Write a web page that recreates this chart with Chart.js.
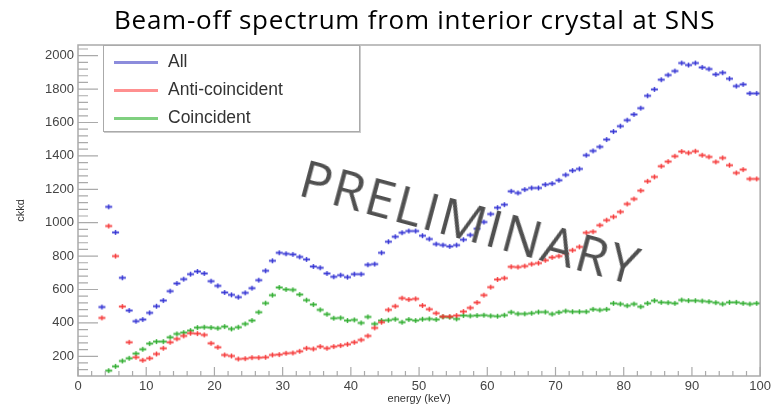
<!DOCTYPE html>
<html>
<head>
<meta charset="utf-8">
<script src="https://cdn.jsdelivr.net/npm/chart.js@4/dist/chart.umd.min.js"></script>
<style>
  html, body { margin: 0; padding: 0; background: #fff; }
  #wrap { position: relative; width: 774px; height: 406px; overflow: hidden; }
  #chart { position: absolute; left: 0; top: 0; }
  #title { position: absolute; left: 114px; top: 1px; width: 604px; text-align: left;
           font-family: "Open Sans", sans-serif; font-size: 26px; letter-spacing: 0.75px; color: #000; white-space: nowrap; }
  #legend { position: absolute; left: 103px; top: 45px; width: 255px; height: 85px;
            border: 1px solid #aaa; box-shadow: 1px 1px 0 #ccc; background: #fff;
            font-family: "Liberation Sans", Arial, sans-serif; font-size: 17.5px; color: #333; }
  .row { position: absolute; left: 10px; height: 20px; line-height: 20px; white-space: nowrap; }
  .row span.sw { display: inline-block; width: 44px; height: 3px; vertical-align: middle; margin-right: 10px; }
  #prelim { position: absolute; left: 471px; top: 221px; transform: translate(-50%, -50%) rotate(15deg);
            font-family: "Open Sans", sans-serif; font-size: 52px; color: #505050; letter-spacing: 2px;
            white-space: nowrap; line-height: 1; }
</style>
</head>
<body>
<div id="wrap">
  <canvas id="chart" width="774" height="406"></canvas>
  <div id="title">Beam-off spectrum from interior crystal at SNS</div>
  <div id="legend">
    <div class="row" style="top:5px"><span class="sw" style="background:#8c8cdc"></span>All</div>
    <div class="row" style="top:33px"><span class="sw" style="background:#ff9090"></span>Anti-coincident</div>
    <div class="row" style="top:61px"><span class="sw" style="background:#80d080"></span>Coincident</div>
  </div>
  <div id="prelim">PRELIMINARY</div>
</div>
<script>
// bin centres (keV)
const energy = [3.5, 4.5, 5.5, 6.5, 7.5, 8.5, 9.5, 10.5, 11.5, 12.5, 13.5, 14.5, 15.5, 16.5, 17.5, 18.5, 19.5,
  20.5, 21.5, 22.5, 23.5, 24.5, 25.5, 26.5, 27.5, 28.5, 29.5, 30.5, 31.5, 32.5, 33.5, 34.5, 35.5, 36.5, 37.5,
  38.5, 39.5, 40.5, 41.5, 42.5, 43.5, 44.5, 45.5, 46.5, 47.5, 48.5, 49.5, 50.5, 51.5, 52.5, 53.5, 54.5, 55.5,
  56.5, 57.5, 58.5, 59.5, 60.5, 61.5, 62.5, 63.5, 64.5, 65.5, 66.5, 67.5, 68.5, 69.5, 70.5, 71.5, 72.5, 73.5,
  74.5, 75.5, 76.5, 77.5, 78.5, 79.5, 80.5, 81.5, 82.5, 83.5, 84.5, 85.5, 86.5, 87.5, 88.5, 89.5, 90.5, 91.5,
  92.5, 93.5, 94.5, 95.5, 96.5, 97.5, 98.5, 99.5];

const allCounts = [495, 1095, 942, 670, 474, 410, 420, 460, 500, 534, 590, 636, 662, 692, 708, 696, 650,
  622, 582, 568, 554, 580, 608, 656, 712, 772, 820, 814, 810, 795, 780, 738, 730, 696, 676,
  686, 674, 692, 692, 748, 752, 820, 886, 916, 940, 950, 950, 922, 902, 872, 866, 858, 866,
  898, 926, 964, 1004, 1052, 1090, 1108, 1188, 1178, 1198, 1208, 1208, 1228, 1234, 1254, 1286, 1312, 1322,
  1404, 1430, 1454, 1498, 1546, 1578, 1614, 1648, 1686, 1760, 1798, 1856, 1884, 1908, 1956, 1944, 1956, 1930,
  1920, 1888, 1898, 1862, 1818, 1828, 1774, 1774];

const antiCounts = [430, 980, 800, 498, 284, 194, 176, 188, 214, 248, 284, 304, 322, 338, 336, 328, 278,
  254, 208, 202, 184, 186, 192, 192, 194, 208, 210, 218, 220, 230, 248, 244, 258, 248, 258,
  264, 272, 284, 298, 322, 370, 404, 478, 500, 548, 540, 544, 504, 482, 458, 438, 438, 444,
  468, 490, 522, 566, 614, 660, 668, 736, 734, 740, 752, 758, 775, 792, 800, 815, 835, 855,
  940, 946, 985, 1015, 1035, 1065, 1112, 1142, 1192, 1248, 1274, 1338, 1366, 1398, 1426, 1418, 1428, 1404,
  1394, 1364, 1388, 1344, 1298, 1318, 1262, 1262];

const coincCounts = [null, 114, 140, 172, 188, 216, 242, 276, 288, 288, 314, 334, 342, 354, 372, 374, 372,
  368, 378, 364, 374, 394, 414, 464, 518, 566, 612, 600, 598, 570, 536, 510, 478, 452, 428,
  430, 414, 418, 400, 436, 394, 414, 416, 422, 404, 420, 414, 422, 424, 420, 436, 434, 424,
  444, 442, 444, 446, 442, 440, 446, 464, 454, 454, 458, 465, 465, 453, 463, 471, 467, 467,
  467, 481, 477, 481, 517, 513, 503, 513, 497, 517, 533, 523, 521, 517, 537, 533, 533, 531,
  527, 521, 513, 523, 523, 517, 513, 517];

const yTickValues = [200, 400, 600, 800, 1000, 1200, 1400, 1600, 1800, 2000];
const xTickValues = [0, 10, 20, 30, 40, 50, 60, 70, 80, 90, 100];

// small error-bar style marker
function marker(color) {
  const c = document.createElement('canvas');
  c.width = 9; c.height = 7;
  const g = c.getContext('2d');
  g.strokeStyle = color;
  g.lineWidth = 2;
  g.beginPath(); g.moveTo(1, 3.5); g.lineTo(8, 3.5); g.stroke();
  g.lineWidth = 1.5;
  g.beginPath(); g.moveTo(4.5, 1); g.lineTo(4.5, 6); g.stroke();
  return c;
}

function pts(vals) {
  return energy.map((e, i) => ({ x: e, y: vals[i] }));
}

// ROOT style frame with inward ticks
const frameTicks = {
  id: 'frameTicks',
  afterDatasetsDraw(chart) {
    const { ctx, chartArea: a, scales: { x, y } } = chart;
    ctx.save();
    ctx.strokeStyle = '#aaaaaa';
    ctx.lineWidth = 1.5;
    ctx.strokeRect(a.left, a.top, a.right - a.left, a.bottom - a.top);
    ctx.lineWidth = 1.2;
    ctx.beginPath();
    for (let v = 0; v <= 100; v += 2) {
      const px = x.getPixelForValue(v);
      const len = v % 10 === 0 ? 9 : 5;
      ctx.moveTo(px, a.bottom); ctx.lineTo(px, a.bottom - len);
    }
    for (let v = 120; v <= 2040; v += 40) {
      const py = y.getPixelForValue(v);
      const len = v % 200 === 0 ? 20 : 10;
      ctx.moveTo(a.left, py); ctx.lineTo(a.left + len, py);
    }
    ctx.stroke();
    ctx.restore();
  }
};

new Chart(document.getElementById('chart'), {
  type: 'scatter',
  data: {
    datasets: [
      { label: 'All', data: pts(allCounts), pointStyle: marker('rgba(45,45,210,0.85)'), pointRadius: 4 },
      { label: 'Anti-coincident', data: pts(antiCounts), pointStyle: marker('rgba(245,50,50,0.85)'), pointRadius: 4 },
      { label: 'Coincident', data: pts(coincCounts), pointStyle: marker('rgba(40,170,40,0.85)'), pointRadius: 4 }
    ]
  },
  options: {
    responsive: false,
    animation: false,
    events: [],
    layout: { padding: { top: 45, right: 12, left: 0, bottom: 0 } },
    plugins: { legend: { display: false }, tooltip: { enabled: false } },
    scales: {
      x: {
        type: 'linear', min: 0, max: 100,
        afterFit: s => { s.height = 30; },
        afterBuildTicks: s => { s.ticks = xTickValues.map(v => ({ value: v })); },
        grid: { display: false, drawTicks: false },
        border: { display: false },
        ticks: { padding: 3, maxRotation: 0, autoSkip: false, color: '#444',
                 callback: v => String(v),
                 font: { family: 'Liberation Sans', size: 13 } },
        title: { display: true, text: 'energy (keV)', color: '#333', padding: { top: 0, bottom: 0 },
                 font: { family: 'Liberation Sans', size: 11 } }
      },
      y: {
        type: 'linear', min: 82, max: 2064,
        afterFit: s => { s.width = 78; },
        afterBuildTicks: s => { s.ticks = yTickValues.map(v => ({ value: v })); },
        grid: { display: false, drawTicks: false },
        border: { display: false },
        ticks: { padding: 4, color: '#444', callback: v => String(v),
                 font: { family: 'Liberation Sans', size: 13 } },
        title: { display: true, text: 'ckkd', color: '#333', padding: { top: 14, bottom: 0 },
                 font: { family: 'Liberation Sans', size: 11 } }
      }
    }
  },
  plugins: [frameTicks]
});
</script>
</body>
</html>
